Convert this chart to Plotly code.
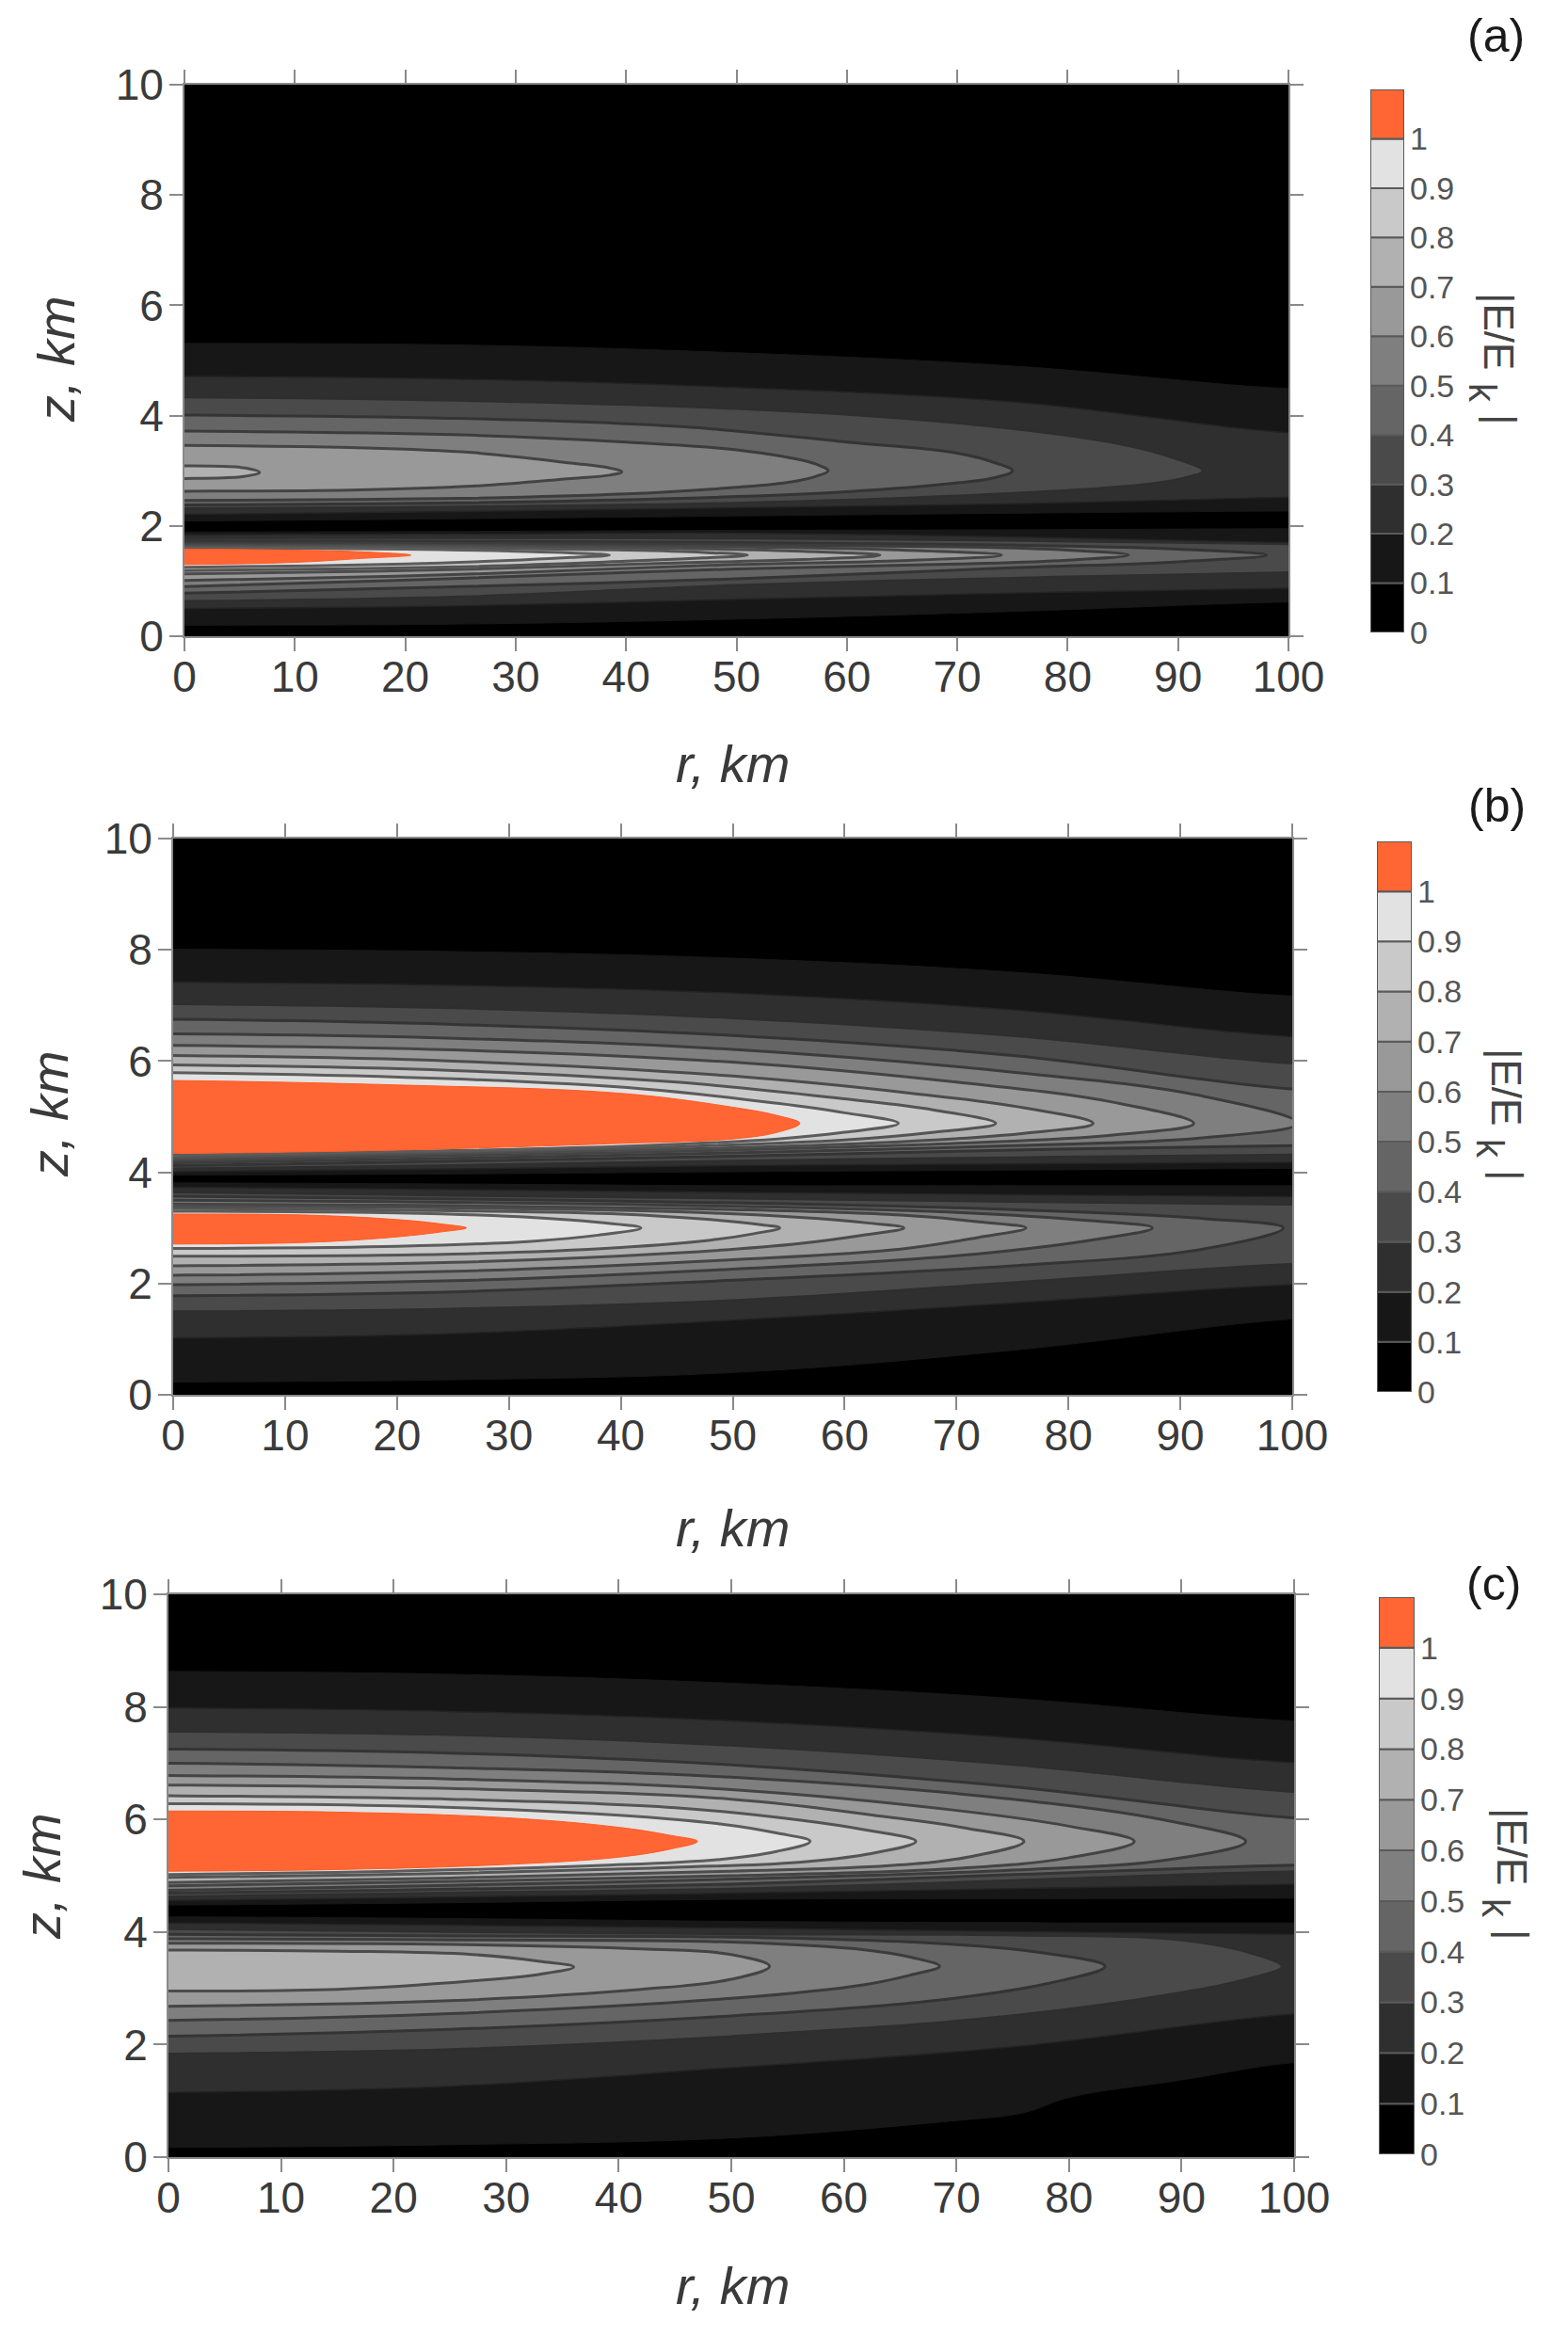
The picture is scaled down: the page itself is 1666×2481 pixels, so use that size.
import plotly.graph_objects as go

W, H = 1666, 2481

# colour scale levels and bands
LEVELS = [0.1, 0.2, 0.3, 0.4, 0.5, 0.6, 0.7, 0.8, 0.9, 1.0]
BAND_BASE = [0, 0.1, 0.2, 0.3, 0.4, 0.5, 0.6, 0.7, 0.8, 0.9, 1.0]
BAND_HEIGHT = [0.1] * 11
BAND_COLOR = ["#000000", "#171717", "#2f2f2f", "#4a4a4a", "#656565", "#7f7f7f",
              "#999999", "#b1b1b1", "#c9c9c9", "#e2e2e2", "#ff6633"]
LINE_COLOR = ["#171717", "#232323", "#2e2e2e", "#343434", "#3c3c3c", "#444444",
              "#4c4c4c", "#545454", "#5c5c5c", "#ff5a26"]
LINE_WIDTH = [1, 1.5, 2, 3, 3, 3, 3, 3, 3, 1]
CBAR_TICKS = [0, 0.1, 0.2, 0.3, 0.4, 0.5, 0.6, 0.7, 0.8, 0.9, 1]
CBAR_LABELS = ["0", "0.1", "0.2", "0.3", "0.4", "0.5", "0.6", "0.7", "0.8", "0.9", "1"]
R_TICKS = [0, 10, 20, 30, 40, 50, 60, 70, 80, 90, 100]
Z_TICKS = [0, 2, 4, 6, 8, 10]

# Contour lines: one row per level (0.1, 0.2, ...),
# r in km, upper and lower z in km of the closed lobe at that level.
# --- panel (a), upper lobe
A_UP_R = [[0,25,50,75,100],[0,25,50,75,100],[0,25,50,70,85,90,92.2],[0,25,45,60,70,73.5,75],
          [0,25,40,50,55,57.2,58.3],[0,15,26,35,38.5,39.6],[0,3.5,5.5,6.8]]
A_UP_TOP = [[5.31,5.28,5.14,4.90,4.49],[4.71,4.66,4.51,4.25,3.69],[4.33,4.27,4.12,3.86,3.47,3.20,3.0],
            [4.01,3.95,3.80,3.52,3.32,3.14,3.0],[3.72,3.65,3.52,3.38,3.23,3.12,3.0],
            [3.46,3.42,3.33,3.14,3.05,2.98],[3.09,3.08,3.05,2.97]]
A_UP_BOT = [[2.09,2.13,2.18,2.23,2.27],[2.21,2.26,2.33,2.40,2.52],[2.32,2.35,2.42,2.55,2.72,2.85,3.0],
            [2.38,2.42,2.50,2.62,2.78,2.88,3.0],[2.46,2.50,2.58,2.70,2.80,2.90,3.0],
            [2.63,2.65,2.72,2.86,2.92,2.98],[2.86,2.87,2.90,2.97]]
# --- panel (a), lower lobe
A_LO_R = [[0,25,50,75,100],[0,25,50,75,100],[0,25,50,75,100],[0,25,50,75,90,98],
          [0,25,50,70,80,85.5],[0,25,50,65,74],[0,25,45,56,63],[0,25,40,47,51],
          [0,20,30,35,38.5],[0,10,16,20.5]]
A_LO_TOP = [[1.89,1.90,1.92,1.93,1.95],[1.84,1.85,1.87,1.80,1.70],[1.78,1.78,1.77,1.73,1.67],
            [1.73,1.72,1.70,1.65,1.58,1.47],[1.69,1.68,1.66,1.62,1.56,1.47],
            [1.66,1.65,1.62,1.56,1.47],[1.64,1.63,1.59,1.54,1.47],[1.62,1.60,1.56,1.52,1.47],
            [1.60,1.58,1.54,1.51,1.47],[1.58,1.56,1.53,1.47]]
A_LO_BOT = [[0.20,0.22,0.31,0.45,0.62],[0.50,0.55,0.67,0.78,0.87],[0.64,0.72,0.93,1.06,1.16],
            [0.78,0.90,1.04,1.24,1.35,1.47],[0.90,1.05,1.22,1.31,1.38,1.47],
            [1.01,1.12,1.30,1.37,1.47],[1.13,1.21,1.33,1.39,1.47],[1.19,1.26,1.36,1.42,1.47],
            [1.25,1.31,1.38,1.43,1.47],[1.30,1.34,1.41,1.47]]
# --- panel (b), upper lobe
B_UP_R = [[0,25,50,75,100],[0,25,50,75,100],[0,25,50,75,100],[0,25,50,75,100],
          [0,25,50,75,92,100.5],[0,25,50,70,84,91.2],[0,25,50,66,76,82.2],
          [0,25,45,60,68,73.5],[0,25,42,54,60,64.8],[0,20,40,50,54,56]]
B_UP_TOP = [[8.01,7.97,7.85,7.60,7.17],[7.42,7.36,7.22,6.92,6.44],[7.02,6.95,6.77,6.45,5.96],
            [6.75,6.66,6.46,6.10,5.50],[6.49,6.41,6.21,5.80,5.37,4.88],
            [6.28,6.20,5.98,5.62,5.26,4.88],[6.10,6.00,5.73,5.42,5.16,4.88],
            [5.93,5.83,5.62,5.32,5.12,4.88],[5.79,5.68,5.50,5.24,5.07,4.88],
            [5.65,5.57,5.42,5.17,5.02,4.88]]
B_UP_BOT = [[3.95,3.97,4.01,4.04,4.07],[4.01,4.06,4.12,4.15,4.18],[4.07,4.13,4.21,4.27,4.32],
            [4.12,4.20,4.29,4.40,4.48],[4.17,4.25,4.35,4.48,4.62,4.88],
            [4.21,4.30,4.40,4.52,4.67,4.88],[4.24,4.34,4.44,4.56,4.70,4.88],
            [4.27,4.37,4.46,4.58,4.72,4.88],[4.31,4.39,4.48,4.60,4.72,4.88],
            [4.34,4.40,4.52,4.60,4.72,4.88]]
# --- panel (b), lower lobe
B_LO_R = [[0,25,50,75,100],[0,25,50,75,100],[0,25,50,75,100],[0,25,50,75,92,99.2],
          [0,25,50,70,82,87.5],[0,25,50,65,72,76.2],[0,25,45,56,62,65.3],
          [0,25,40,48,52,54.2],[0,20,32,38,41.8],[0,12,20,24,26.2]]
B_LO_TOP = [[3.81,3.79,3.76,3.76,3.76],[3.73,3.69,3.64,3.60,3.56],[3.64,3.58,3.53,3.47,3.42],
            [3.57,3.52,3.45,3.33,3.17,3.0],[3.50,3.46,3.39,3.28,3.13,3.0],
            [3.43,3.40,3.33,3.23,3.11,3.0],[3.39,3.36,3.29,3.19,3.09,3.0],
            [3.35,3.31,3.25,3.15,3.07,3.0],[3.30,3.27,3.19,3.10,3.0],[3.25,3.23,3.15,3.07,3.0]]
B_LO_BOT = [[0.23,0.27,0.40,0.80,1.36],[1.02,1.10,1.34,1.65,1.98],[1.50,1.55,1.70,2.02,2.35],
            [1.78,1.85,2.06,2.32,2.62,3.0],[1.98,2.05,2.26,2.50,2.78,3.0],
            [2.15,2.22,2.43,2.62,2.83,3.0],[2.32,2.38,2.55,2.72,2.88,3.0],
            [2.49,2.53,2.65,2.78,2.90,3.0],[2.63,2.67,2.76,2.87,3.0],[2.71,2.74,2.84,2.93,3.0]]
# --- panel (c), upper lobe
C_UP_R = [[0,25,50,75,100],[0,25,50,75,100],[0,25,50,75,100],[0,25,50,75,100],
          [0,25,50,75,89,95.7],[0,25,50,70,80,85.8],[0,25,50,64,71,76],
          [0,25,45,56,62,66.4],[0,20,38,49,54,57],[0,15,30,40,44.5,47]]
C_UP_TOP = [[8.63,8.58,8.42,8.15,7.75],[7.98,7.92,7.75,7.45,7.01],[7.56,7.50,7.31,6.97,6.49],
            [7.25,7.18,6.97,6.58,6.03],[7.00,6.92,6.75,6.36,5.97,5.61],
            [6.78,6.72,6.53,6.16,5.88,5.61],[6.61,6.55,6.36,6.04,5.84,5.61],
            [6.42,6.36,6.21,5.99,5.81,5.61],[6.28,6.24,6.10,5.92,5.76,5.61],
            [6.15,6.13,6.03,5.86,5.72,5.61]]
C_UP_BOT = [[4.48,4.52,4.58,4.59,4.60],[4.56,4.62,4.69,4.77,4.85],[4.63,4.70,4.77,4.92,5.08],
            [4.69,4.76,4.85,5.02,5.19],[4.74,4.83,4.94,5.10,5.29,5.61],
            [4.82,4.90,5.00,5.13,5.32,5.61],[4.88,4.96,5.08,5.18,5.33,5.61],
            [4.97,5.04,5.15,5.24,5.38,5.61],[5.02,5.08,5.18,5.29,5.43,5.61],
            [5.08,5.11,5.20,5.33,5.47,5.61]]
# --- panel (c), lower lobe
C_LO_R = [[0,25,50,70,76,80,90,100],[0,25,50,75,100],[0,25,50,75,90,96,98.9],
          [0,25,50,68,78,83.2],[0,25,50,62,66,68.5],[0,25,42,50,53.4],[0,15,27,33,36]]
C_LO_TOP = [[4.27,4.24,4.19,4.17,4.17,4.16,4.16,4.16],[4.16,4.12,4.07,4.01,3.96],
            [4.05,4.00,3.96,3.94,3.85,3.63,3.39],[3.96,3.93,3.91,3.80,3.62,3.39],
            [3.88,3.86,3.82,3.68,3.55,3.39],[3.80,3.78,3.70,3.60,3.39],[3.68,3.66,3.60,3.48,3.38]]
C_LO_BOT = [[0.17,0.22,0.34,0.65,0.79,1.06,1.37,1.68],[1.15,1.26,1.59,1.96,2.54],
            [1.84,1.92,2.15,2.52,2.93,3.18,3.39],[2.15,2.27,2.51,2.78,3.08,3.39],
            [2.43,2.55,2.82,3.07,3.24,3.39],[2.68,2.78,2.98,3.16,3.39],[2.95,2.98,3.13,3.25,3.38]]

# Placement in page pixels: plot left, right, top, bottom
PANEL_BOX = [(196, 1369, 90, 676), (184, 1373, 891, 1482), (179, 1375, 1694, 2292)]
CBAR_BOX = [(1456, 1492, 95, 672), (1463, 1500, 894, 1479), (1465, 1503, 1697, 2289)]
PANEL_TAG = ["(a)", "(b)", "(c)"]
TAG_POS = [(1589, 38), (1590, 856), (1587, 1683)]
RTITLE_POS = [(778, 812), (778, 1623), (778, 2428)]
ZTITLE_POS = [(60, 382), (52, 1184), (44, 1994)]
CTITLE_MAIN_POS = [(1593, 352), (1601, 1155), (1607, 1962)]
CTITLE_SUB_POS = [(1575, 417), (1583, 1220), (1589, 2027)]
CTITLE_END_POS = [(1595, 445), (1603, 1248), (1609, 2055)]

FONT = "Liberation Sans"
AXIS = "#8a8a8a"
TEXT = "#3a3a3a"

fig = go.Figure()


def add_lobes(rows_r, rows_top, rows_bot, axis_no, level):
    i = round(level * 10) - 1
    if i >= len(rows_r):
        return
    r, top, bot = rows_r[i], rows_top[i], rows_bot[i]
    closed_tip = top[-1] == bot[-1]
    if closed_tip:
        xs = [-4] + r + r[-2::-1] + [-4]
        ys = [top[0]] + top + bot[-2::-1] + [bot[0]]
    else:
        xs = [-4] + r + [106, 106] + r[::-1] + [-4]
        ys = [top[0]] + top + [top[-1], bot[-1]] + bot[::-1] + [bot[0]]
    suffix = "" if axis_no == 1 else str(axis_no)
    fig.add_trace(go.Scatter(
        x=xs, y=ys, mode="lines", fill="toself",
        fillcolor=BAND_COLOR[i + 1],
        line=dict(color=LINE_COLOR[i], width=LINE_WIDTH[i], shape="spline", smoothing=1.1),
        xaxis="x" + suffix, yaxis="y" + suffix, showlegend=False, hoverinfo="skip"))


PANEL_ROWS = [
    (A_UP_R, A_UP_TOP, A_UP_BOT, A_LO_R, A_LO_TOP, A_LO_BOT),
    (B_UP_R, B_UP_TOP, B_UP_BOT, B_LO_R, B_LO_TOP, B_LO_BOT),
    (C_UP_R, C_UP_TOP, C_UP_BOT, C_LO_R, C_LO_TOP, C_LO_BOT),
]

layout = dict(
    width=W, height=H, autosize=False,
    margin=dict(l=0, r=0, t=0, b=0),
    paper_bgcolor="white", plot_bgcolor="black",
    showlegend=False, barmode="overlay",
    annotations=[],
)


def frac_x(px):
    return px / W


def frac_y(py):
    return 1 - py / H


def note(text, pos, size, angle=0, color=TEXT, italic=False):
    layout["annotations"].append(dict(
        text=text, x=frac_x(pos[0]), y=frac_y(pos[1]), xref="paper", yref="paper",
        showarrow=False, textangle=angle, xanchor="center", yanchor="middle",
        font=dict(family=FONT, size=size, color=color, style="italic" if italic else "normal")))


for p in range(3):
    n = p + 1
    sfx = "" if n == 1 else str(n)
    ur, ut, ub, lr, lt, lb = PANEL_ROWS[p]
    for lev in LEVELS:
        add_lobes(ur, ut, ub, n, lev)
        add_lobes(lr, lt, lb, n, lev)
    l, rgt, tp, bt = PANEL_BOX[p]
    axis_common = dict(showgrid=False, zeroline=False, showline=True, linecolor=AXIS, linewidth=2,
                       mirror="ticks", ticks="outside", ticklen=14, tickwidth=2, tickcolor=AXIS,
                       automargin=False,
                       tickfont=dict(family=FONT, size=46, color=TEXT))
    layout["xaxis" + sfx] = dict(domain=[frac_x(l), frac_x(rgt)], range=[0, 100], tickmode="array",
                                 tickvals=R_TICKS, ticktext=[str(v) for v in R_TICKS],
                                 anchor="y" + sfx, ticklabelstandoff=-12, **axis_common)
    layout["yaxis" + sfx] = dict(domain=[frac_y(bt), frac_y(tp)], range=[0, 10], tickmode="array",
                                 tickvals=Z_TICKS, ticktext=[str(v) for v in Z_TICKS],
                                 anchor="x" + sfx, ticklabelstandoff=-3, **axis_common)

    # colour key
    cn = n + 3
    fig.add_trace(go.Bar(x=[0] * 11, y=BAND_HEIGHT, base=BAND_BASE, width=1,
                         marker=dict(color=BAND_COLOR, line=dict(color="#5a5a5a", width=2)),
                         xaxis="x%d" % cn, yaxis="y%d" % cn, showlegend=False, hoverinfo="skip"))
    cl, cr, ct, cb = CBAR_BOX[p]
    layout["xaxis%d" % cn] = dict(domain=[frac_x(cl), frac_x(cr)], range=[-0.5, 0.5], visible=False,
                                  anchor="y%d" % cn, automargin=False)
    layout["yaxis%d" % cn] = dict(domain=[frac_y(cb), frac_y(ct)], range=[0, 1.1], side="right",
                                  anchor="x%d" % cn, showgrid=False, zeroline=False, showline=False,
                                  automargin=False, ticklabelstandoff=5,
                                  ticks="", tickmode="array", tickvals=CBAR_TICKS, ticktext=CBAR_LABELS,
                                  tickfont=dict(family=FONT, size=34, color="#555555"))

    note(PANEL_TAG[p], TAG_POS[p], 50, color="#1a1a1a")
    note("r, km", RTITLE_POS[p], 56, italic=True)
    note("z, km", ZTITLE_POS[p], 56, angle=-90, italic=True)
    note("|E/E", CTITLE_MAIN_POS[p], 44, angle=90, color="#444444")
    note("k", CTITLE_SUB_POS[p], 40, angle=90, color="#444444")
    note("|", CTITLE_END_POS[p], 44, angle=90, color="#444444")

fig.update_layout(**layout)
fig.write_html("out.html", config={"displayModeBar": False},
               post_script="document.body.style.margin='0';")
